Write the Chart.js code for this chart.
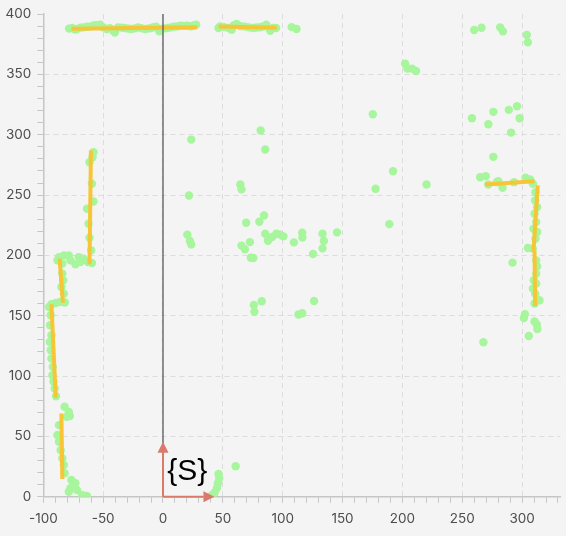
<!DOCTYPE html>
<html><head><meta charset="utf-8">
<script src="https://cdn.jsdelivr.net/npm/chart.js@4/dist/chart.umd.min.js"></script>
<style>html,body{margin:0;padding:0;background:#f4f4f4;overflow:hidden}#wrap{width:566px;height:536px;position:relative}</style>
</head><body><div id="wrap"><canvas id="c"></canvas></div>
<script>
// Scan points [x, y]
const topWallPoints = [[-78.5,388.0],[-75.9,388.5],[-73.5,387.2],[-71.8,387.6],[-69,388.8],[-66.3,389.0],[-63.5,389.5],[-60.8,389.6],[-58,390.6],[-55.3,390.9],[-52.5,391.2],[-49.8,389.0],[-47.0,387.6],[-44.3,388.4],[-41.6,386.2],[-40.2,384.8],[-37.5,389.0],[-34.7,388.8],[-31.9,388.5],[-29.1,388.0],[-26.4,387.6],[-23.6,388.2],[-20.9,389.0],[-18.2,388.4],[-15.4,387.6],[-12.6,388.0],[-9.9,388.5],[-7.8,389.2],[-5.8,389.6],[-3.1,385.7],[-1.6,387.6],[1.2,388.2],[3.8,388.5],[6.5,389.0],[9.3,389.6],[12,389.8],[14.8,390.4],[17.5,390.2],[20.3,390.4],[23,389.8],[25.5,390.6],[27.7,391.2],
  [46.4,388.5],[47.8,389.8],[51,389.2],[54.7,388.5],[57.4,387.1],[59,390.5],[61.5,391.8],[65,390],[68.5,389.6],[72,389],[75.3,388.5],[78,388.9],[80.8,389.0],[83.5,389.8],[86.3,391.2],[89.6,386.2],[92,388.5],[94.5,388.5],[107.5,389.2],[111.6,387.6]];
const leftWallPoints = [[-58.1,285.5],[-58.9,281.4],[-61.4,277.2],[-59.4,259.4],[-58.1,244.7],[-63.5,238.7],[-62.2,226.3],[-61.4,214.7],[-60.0,204.2],[-59.4,193.7],[-62.7,194.5],
  [-86.9,198.6],[-88.2,195.9],[-82.8,200.0],[-78.7,200.0],[-77.3,195.9],[-73.2,192.6],[-70.4,198.6],[-66.3,197.3],[-69.0,194.5],[-84.1,193.2],
  [-84.1,184.9],[-83.3,179.3],[-84.9,173.8],[-82.8,168.3],[-82.0,160.9],[-86.1,161.4],[-89.6,160.6],[-93.2,159.5],
  [-95.2,157.2],[-93.8,150.4],[-94.4,142.1],[-93.2,133.8],[-94.6,128.3],[-93.8,121.4],[-93.2,114.5],[-92.1,107.6],[-92.4,100.7],[-91.5,95.2],[-90.5,89.7],[-89.4,83.3],
  [-82.2,74.5],[-78.7,70.3],[-77.8,66.8],[-80.5,66.2],[-86.9,59.3],[-88.2,51.1],[-86.9,45.5],[-85.5,38.6],[-84.1,31.8],[-82.8,26.2],[-82.2,19.4],
  [-76.5,13.8],[-73.2,11.1],[-77.3,7.0],[-71.9,5.5],[-78.7,4.1],[-67.6,1.4],[-63.5,0.6]];
const fieldPoints = [[23.6,296.0],[81.6,303.5],[85.4,287.8],[175.3,317.0],[202.3,358.9],[204.2,354.8],[208.1,354.8],[211.4,352.9],[192.2,269.8],[177.6,255.2],[220.2,258.8],[189.1,225.9],
  [21.7,249.7],[20.3,217.2],[22.5,211.9],[23.6,209.1],[64.6,258.8],[65.6,254.7],[69.5,227.1],[80.5,227.9],[84.4,233.1],[65.6,208.1],[68.5,205.0],[72.6,211.0],[73.4,198.1],[75.5,197.8],[85.4,218.0],[87.7,212.2],[91.2,215.2],[94.8,218.0],[97.8,217.2],[100.6,215.8],[109.4,210.8],[116.3,218.8],[116.5,214.9],[125.4,201.1],[133.3,218.0],[134.4,211.9],[133.3,205.8],[145.4,219.1],[75.9,158.9],[76.4,153.4],[82.5,162.0],[113.2,151.0],[116.3,152.0],[126.2,162.2],
  [46.4,18.8],[47.0,15.2],[45.9,11.1],[45.0,7.0],[43.1,3.3],[40.9,1.4],[60.7,25.2]];
const rightWallPoints = [[260.0,386.8],[266.1,388.7],[281.7,389.0],[284.0,385.7],[304.0,382.7],[304.8,376.6],
  [258.1,313.7],[276.0,319.0],[271.8,308.7],[288.9,320.6],[295.8,323.6],[298.0,313.7],[290.8,301.8],[276.0,281.7],
  [265.0,264.8],[269.7,265.7],[271.8,258.8],[278.8,260.7],[280.1,261.4],[283.7,256.1],[293.3,260.7],[302.9,264.3],[306.8,262.9],[309,259.4],
  [311.2,252.4],[310.9,245.5],[312.6,240.0],[310.4,234.5],[311.8,227.6],[309.5,222.1],[312.6,219.4],[311.2,213.8],[309.0,205.6],[311.8,195.9],[312.6,190.9],[311.8,184.9],[309.8,179.4],[311.8,176.6],[309.0,172.5],[310.9,168.3],[314.5,162.8],[310.4,160.1],
  [292.0,194.0],[304.8,206.1],[267.7,128.0],[302.4,151.2],[301.5,148.1],[310.4,145.2],[312.3,142.7],[312.8,139.0],[305.6,133.2]];

// Fitted wall segments
const segmentStart = [[-76.5,387.9],[46.4,389.8],[-60.2,286.9],[-86.4,197.3],[-93.2,159.5],[-84.9,69.0],[269.1,258.8],[313.1,258.0],[310.4,203.6]];
const segmentEnd   = [[28.5,389.0],[95.1,388.7],[-61.4,192.6],[-83.6,160.9],[-89.6,81.9],[-84.1,14.6],[310.3,261.5],[309.5,203.6],[310.9,158.1]];

// Reference line and frame
const refLineX = [0, 0];
const refLineY = [0, 400];
const frameArrowTips = [[43, 0], [0, 45.5]];
const frameLabel = '{S}';
const frameLabelPos = [3.5, 21.0];

const xTickLabels = [-100, -50, 0, 50, 100, 150, 200, 250, 300];
const yTickLabels = [0, 50, 100, 150, 200, 250, 300, 350, 400];

const allPoints = [].concat(topWallPoints, leftWallPoints, fieldPoints, rightWallPoints);
const toXY = p => ({x: p[0], y: p[1]});

const datasets = [];
datasets.push({data: refLineX.map((x, i) => ({x, y: refLineY[i]})), showLine: true, borderColor: '#5a5a5a', borderWidth: 1.3, pointRadius: 0});
segmentStart.forEach((s, i) => datasets.push({data: [toXY(s), toXY(segmentEnd[i])], showLine: true, borderColor: '#f7c636', borderWidth: 4, borderCapStyle: 'butt', pointRadius: 0}));
datasets.push({data: allPoints.map(toXY), backgroundColor: '#a7f59c', borderWidth: 0, pointRadius: 4.2, pointHoverRadius: 4.2});

const framePlugin = {
  id: 'frame',
  afterDatasetsDraw(chart) {
    const {ctx, scales: {x, y}} = chart;
    const ox = x.getPixelForValue(0), oy = y.getPixelForValue(0);
    ctx.save();
    ctx.strokeStyle = '#d97a6a'; ctx.fillStyle = '#d97a6a'; ctx.lineWidth = 2;
    frameArrowTips.forEach(t => {
      const tx = x.getPixelForValue(t[0]), ty = y.getPixelForValue(t[1]);
      const ang = Math.atan2(ty - oy, tx - ox);
      const head = 11, half = 5.5;
      const bx = tx - head * Math.cos(ang), by = ty - head * Math.sin(ang);
      ctx.beginPath(); ctx.moveTo(ox, oy); ctx.lineTo(bx, by); ctx.stroke();
      ctx.beginPath(); ctx.moveTo(tx, ty);
      ctx.lineTo(bx + half * Math.sin(ang), by - half * Math.cos(ang));
      ctx.lineTo(bx - half * Math.sin(ang), by + half * Math.cos(ang));
      ctx.closePath(); ctx.fill();
    });
    ctx.fillStyle = '#000';
    ctx.font = '30px "Liberation Sans", Arial, sans-serif';
    ctx.textAlign = 'left'; ctx.textBaseline = 'middle';
    ctx.fillText(frameLabel, x.getPixelForValue(frameLabelPos[0]), y.getPixelForValue(frameLabelPos[1]));
    ctx.restore();
  }
};

const tickFont = {family: 'Inter, "Liberation Sans", sans-serif', size: 13.5};
const gridColorFor = (labels, skip) => ctx => (ctx.tick && labels.includes(ctx.tick.value) && !skip.includes(ctx.tick.value)) ? '#dcdcdc' : 'rgba(0,0,0,0)';

new Chart(document.getElementById('c'), {
  type: 'scatter',
  data: {datasets},
  options: {
    responsive: true, maintainAspectRatio: false, animation: false,
    layout: {padding: {top: 13.3, right: 0, left: 0, bottom: 0}},
    plugins: {legend: {display: false}, tooltip: {enabled: false}},
    scales: {
      x: {
        type: 'linear', min: -100, max: 332,
        afterFit: s => { s.height = 39.3; },
        ticks: {stepSize: 10, includeBounds: false, autoSkip: false, maxRotation: 0, padding: 8, color: '#4d4d4d', font: tickFont,
          callback: v => xTickLabels.includes(v) ? String(v) : ''},
        grid: {color: gridColorFor(xTickLabels, [-100]), tickColor: '#c6c6c6', tickLength: 6, lineWidth: 1},
        border: {color: '#c6c6c6', width: 1.5, dash: [5, 4]}
      },
      y: {
        type: 'linear', min: 0, max: 400,
        afterFit: s => { s.width = 43.3; },
        ticks: {stepSize: 10, includeBounds: false, autoSkip: false, padding: 6, color: '#4d4d4d', font: tickFont,
          callback: v => yTickLabels.includes(v) ? String(v) : ''},
        grid: {color: gridColorFor(yTickLabels, [0, 400]), tickColor: '#c6c6c6', tickLength: 6, lineWidth: 1},
        border: {color: '#c6c6c6', width: 1.5, dash: [5, 4]}
      }
    }
  },
  plugins: [framePlugin]
});
</script></body></html>
